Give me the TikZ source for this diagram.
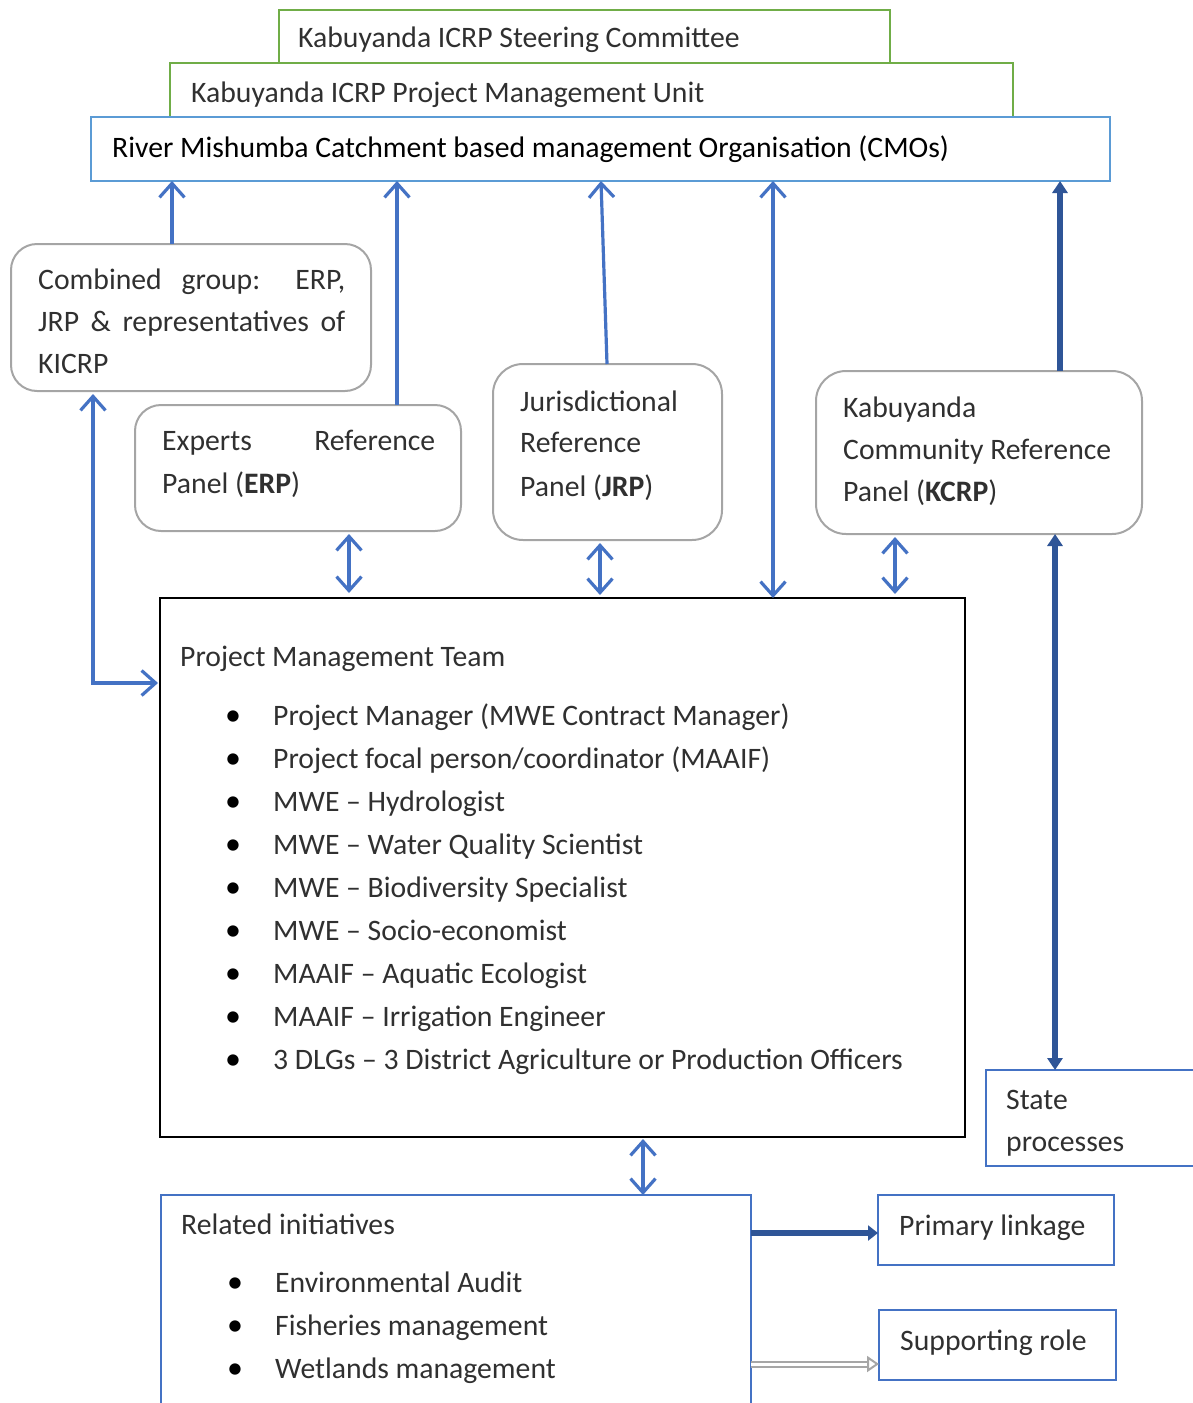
\documentclass[tikz,border=0pt]{standalone}
\usepackage{fontspec}
\setmainfont{Carlito}
\usetikzlibrary{arrows.meta}
\definecolor{grn}{HTML}{70AD47}
\definecolor{lblue}{HTML}{5B9BD5}
\definecolor{mblue}{HTML}{4472C4}
\definecolor{dblue}{HTML}{2F5597}
\definecolor{gborder}{HTML}{A5A5A5}
\definecolor{txt}{HTML}{303030}
\definecolor{hollow}{HTML}{A6A6A6}
\begin{document}
\begin{tikzpicture}[x=1pt,y=-1pt,
  font=\fontsize{29.7}{34}\selectfont,
  >={Straight Barb[length=14pt,width=25pt]},
  box/.style={draw, inner sep=0pt, outer sep=0pt, anchor=north west, line width=2pt},
  gbox/.style={box, draw=grn},
  bbox/.style={box, draw=lblue},
  mbox/.style={box, draw=mblue},
  rbox/.style={box, draw=gborder, rounded corners=26pt},
  tbox/.style={box, draw=black, line width=2.5pt},
  lab/.style={anchor=base west, inner sep=0pt, text=txt},
  bul/.style={anchor=base, inner sep=0pt, text=black, font=\fontsize{32}{32}\selectfont},
  arr/.style={draw=mblue, line width=3.2pt},
  darr/.style={draw=dblue, line width=6pt},
  harr/.style={draw=hollow, line width=2pt, double=white, double distance=3pt}
]
\useasboundingbox (0,0) rectangle (1192,1403);

% boxes
\node[gbox, minimum width=611pt, minimum height=53pt] (sc) at (279,10) {};
\node[gbox, minimum width=843pt, minimum height=54pt] (pmu) at (170,63) {};
\node[bbox, minimum width=1019pt, minimum height=64pt] (cmo) at (91,117) {};
\node[rbox, minimum width=360pt, minimum height=147pt] (comb) at (11,244) {};
\node[rbox, minimum width=326pt, minimum height=126pt] (erp) at (135,405) {};
\node[rbox, minimum width=229pt, minimum height=176pt, rounded corners=30pt] (jrp) at (493,364) {};
\node[rbox, minimum width=326pt, minimum height=163pt, rounded corners=30pt] (kcrp) at (816,371) {};
\node[tbox, minimum width=805pt, minimum height=539pt] (pmt) at (160,598) {};
\node[mbox, minimum width=220pt, minimum height=96pt] (state) at (986,1070) {};
\node[mbox, minimum width=590pt, minimum height=240pt] (rel) at (161,1195) {};
\node[mbox, minimum width=236pt, minimum height=70pt] (prim) at (878,1195) {};
\node[mbox, minimum width=237pt, minimum height=70pt] (supp) at (879,1310) {};

% texts
\node[lab] (tsc) at (298,47) {Kabuyanda ICRP Steering Committee};
\node[lab] (tpmu) at (191,102) {Kabuyanda ICRP Project Management Unit};
\node[lab, text=black] (tcmo) at (112,157) {River Mishumba Catchment based management Organisation (CMOs)};

\node[lab] (tc1) at (38,289) {\makebox[307pt][s]{Combined group: ERP,}};
\node[lab] (tc2) at (38,331) {\makebox[307pt][s]{JRP \& representatives of}};
\node[lab] (tc3) at (38,373) {KICRP};

\node[lab] (te1) at (162,450) {\makebox[273pt][s]{Experts Reference}};
\node[lab] (te2) at (162,493) {Panel (\textbf{ERP})};

\node[lab] (tj1) at (520,411) {Jurisdictional};
\node[lab] (tj2) at (520,452) {Reference};
\node[lab] (tj3) at (520,496) {Panel (\textbf{JRP})};

\node[lab] (tk1) at (843,417) {Kabuyanda};
\node[lab] (tk2) at (843,459) {Community Reference};
\node[lab] (tk3) at (843,501) {Panel (\textbf{KCRP})};

\node[lab] (tpmt) at (180,666) {Project Management Team};
\foreach \t [count=\i from 0] in {
  {Project Manager (MWE Contract Manager)},
  {Project focal person/coordinator (MAAIF)},
  {MWE – Hydrologist},
  {MWE – Water Quality Scientist},
  {MWE – Biodiversity Specialist},
  {MWE – Socio-economist},
  {MAAIF – Aquatic Ecologist},
  {MAAIF – Irrigation Engineer},
  {3 DLGs – 3 District Agriculture or Production Officers}} {
  \node[bul] (pb\i) at (233,{725+43*\i}) {•};
  \node[lab] (pt\i) at (273,{725+43*\i}) {\t};
}

\node[lab] (ts1) at (1006,1109) {State};
\node[lab] (ts2) at (1006,1151) {processes};

\node[lab] (trel) at (181,1234) {Related initiatives};
\foreach \t [count=\i from 0] in {
  {Environmental Audit},
  {Fisheries management},
  {Wetlands management}} {
  \node[bul] (rb\i) at (235,{1292+43*\i}) {•};
  \node[lab] (rt\i) at (275,{1292+43*\i}) {\t};
}

\node[lab] (tprim) at (899,1235) {Primary linkage};
\node[lab] (tsupp) at (900,1350) {Supporting role};

% connectors
\draw[arr,->] (comb.north -| 172,0) -- (cmo.south -| 172,0);
\draw[arr,->] (erp.north -| 397,0) -- (cmo.south -| 397,0);
\draw[arr,->] (jrp.north -| 607,0) -- (cmo.south -| 601,0);
\draw[arr,<->] (cmo.south -| 773,0) -- (pmt.north -| 773,0);
\draw[darr,-{Triangle[length=12pt,width=15pt]}] (kcrp.north -| 1060,0) -- (cmo.south -| 1060,0);
\draw[darr,{Triangle[length=12pt,width=15pt]}-{Triangle[length=12pt,width=15pt]}] (kcrp.south -| 1055,0) -- (state.north -| 1055,0);
\draw[arr,<->,shorten <=3pt,shorten >=5pt] (erp.south -| 349,0) -- (pmt.north -| 349,0);
\draw[arr,<->,shorten <=3pt,shorten >=3pt] (jrp.south -| 600,0) -- (pmt.north -| 600,0);
\draw[arr,<->,shorten <=3pt,shorten >=4pt] (kcrp.south -| 895,0) -- (pmt.north -| 895,0);
\draw[arr,<->,shorten <=3pt,shorten >=2pt] (comb.south -| 93,0) |- (pmt.west |- 0,683);
\draw[arr,<->,shorten <=2pt] (pmt.south -| 643,0) -- (rel.north -| 643,0);
\draw[darr,-{Triangle[length=10pt,width=15pt]}] (rel.east |- 0,1233) -- (prim.west |- 0,1233);
\draw[harr,-{Triangle[open,length=12pt,width=16pt]}] (rel.east |- 0,1364) -- (supp.west |- 0,1364);
\end{tikzpicture}
\end{document}
